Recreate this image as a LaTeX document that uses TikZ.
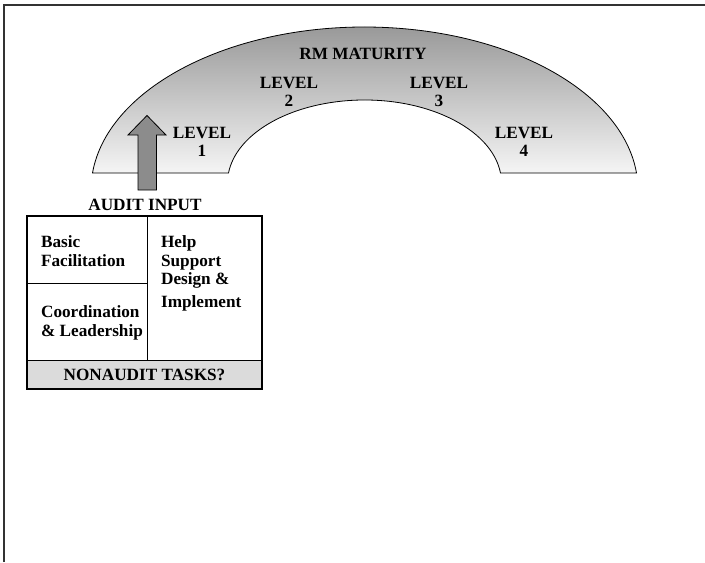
\documentclass[tikz,border=0pt]{standalone}
\usepackage{fontspec}
\setmainfont{Liberation Serif}
\begin{document}
\begin{tikzpicture}[x=0.5pt,y=-0.5pt,
	lvl/.style={font=\bfseries\fontsize{8.6}{9}\selectfont,align=center,inner sep=0,anchor=north},
	task/.style={font=\bfseries\fontsize{8.6}{9.4}\selectfont,align=left,inner sep=0,anchor=north west}]
	\useasboundingbox (0,0) rectangle (705,562);
	\draw[line width=1pt,black!80] (3.5,562) -- (3.5,5) -- (705,5);
	
	% maturity arch
	\draw[thin,top color=black!42,bottom color=black!4] (92.5,173) 
	arc[start angle=174.01,end angle=5.99,x radius=136.75pt,y radius=81.5pt] -- (500.5,173) 
	arc[start angle=6.92,end angle=173.08,x radius=68.5pt,y radius=41.5pt] -- cycle;
	
	\node[lvl,anchor=base] (rm) at (363,59) {RM MATURITY};
	\node[lvl] (lvl1) at (202,127) {LEVEL\\1};
	\node[lvl] (lvl2) at (289,77) {LEVEL\\2};
	\node[lvl] (lvl3) at (439,77) {LEVEL\\3};
	\node[lvl] (lvl4) at (524,127) {LEVEL\\4};
	
	% audit input arrow
	\draw[thin,fill=black!45] (138,190) -- (138,135) -- (128,135) -- (147,115.5) 
	-- (166,135) -- (156.5,135) -- (156.5,190) -- cycle;
	\node[task,anchor=base] (input) at (145,210.7) {AUDIT INPUT};
	
	% task box
	\fill[black!14] (27,360) rectangle (262,389);
	\draw[thin] (27,360) -- (262,360);
	\draw[thin] (147,216) -- (147,360);
	\draw[thin] (27,283) -- (147,283);
	\draw[line width=1.2pt] (27,216) rectangle (262,389);
	
	\node[task] (basic) at (40.7,235) {Basic\\Facilitation};
	\node[task] (help) at (160.7,235) {Help\\Support\\Design \&\\[2pt]Implement};
	\node[task] (coord) at (40.7,305) {Coordination\\\& Leadership};
	\node[task,anchor=base] (nonaudit) at (144.5,380) {NONAUDIT TASKS?};
\end{tikzpicture}
\end{document}
